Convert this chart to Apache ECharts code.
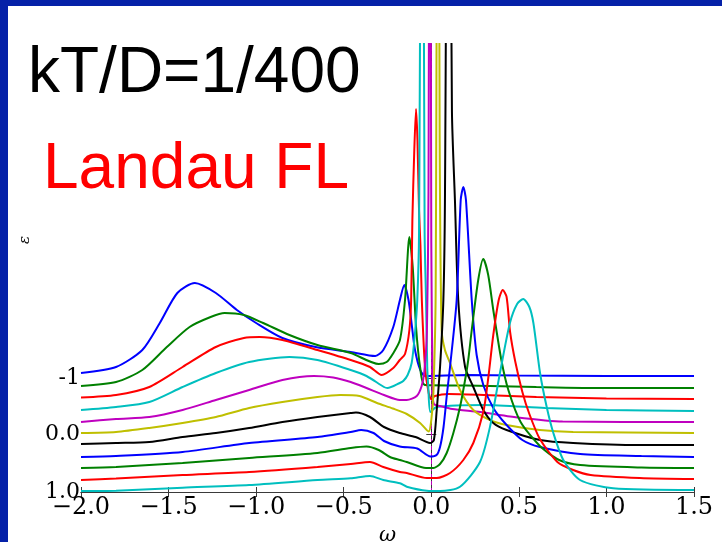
<!DOCTYPE html>
<html>
<head>
<meta charset="utf-8">
<script src="https://cdn.jsdelivr.net/npm/echarts@6/dist/echarts.min.js"></script>
<style>
  html, body { margin: 0; padding: 0; background: #ffffff; }
  #chart { width: 722px; height: 542px; }
</style>
</head>
<body>
<div id="chart"></div>
<script>
// Spectral functions A(omega), each shifted by a constant offset.
// Points are [omega, shifted value]; curves listed from the top offset down.
const curveColors = ['#0000ff', '#008000', '#ff0000', '#00bfbf', '#bf00bf', '#bfbf00',
                     '#000000', '#0000ff', '#008000', '#ff0000', '#00bfbf'];

const curve1 = [[-2.0,11.9],[-1.8,12.5],[-1.65,14.2],[-1.55,16.9],[-1.45,19.9],[-1.35,20.9],
  [-1.23,19.9],[-1.11,18.2],[-1.0,16.9],[-0.85,15.4],[-0.66,14.5],[-0.46,14.0],[-0.32,13.6],
  [-0.274,14.2],[-0.217,16.5],[-0.179,19.2],[-0.154,20.7],[-0.13,19.2],[-0.11,16.5],
  [-0.093,14.2],[-0.063,12.2],[-0.035,11.6],[0.2,11.7],[0.5,11.65],[1.0,11.6],[1.5,11.6]];

const curve2 = [[-2.0,10.6],[-1.8,11.0],[-1.65,12.2],[-1.51,14.5],[-1.38,16.5],[-1.26,17.5],
  [-1.18,17.9],[-1.07,17.7],[-0.96,16.9],[-0.81,15.7],[-0.65,14.7],[-0.46,13.9],[-0.30,12.8],
  [-0.255,13.0],[-0.22,13.8],[-0.179,15.2],[-0.15,19.2],[-0.125,25.5],[-0.106,22.5],
  [-0.087,16.5],[-0.064,12.5],[-0.036,10.7],[0.2,10.65],[0.6,10.5],[1.0,10.4],[1.5,10.4]];

const curve3 = [[-2.0,9.45],[-1.8,9.7],[-1.61,10.5],[-1.42,12.5],[-1.23,14.5],[-1.07,15.4],
  [-0.98,15.5],[-0.85,15.2],[-0.65,14.2],[-0.46,13.2],[-0.35,12.5],[-0.283,11.7],[-0.217,12.4],
  [-0.18,13.2],[-0.15,13.8],[-0.125,16.2],[-0.115,19.2],[-0.108,27.2],[-0.097,34.2],
  [-0.087,38.3],[-0.079,35.2],[-0.07,28.2],[-0.062,24.7],[-0.054,19.2],[-0.036,12.5],
  [-0.015,9.9],[0.0,9.3],[0.02,9.6],[0.1,9.8],[0.3,9.7],[0.6,9.5],[1.0,9.35],[1.5,9.3]];

const curve4 = [[-2.0,8.2],[-1.8,8.5],[-1.61,9.0],[-1.42,10.5],[-1.23,11.9],[-1.04,13.0],
  [-0.81,13.5],[-0.65,13.2],[-0.46,12.2],[-0.37,11.6],[-0.27,10.5],[-0.25,10.4],[-0.18,10.9],
  [-0.16,11.1],[-0.135,11.7],[-0.112,12.9],[-0.093,15.9],[-0.08,19.2],[-0.07,25.9],
  [-0.052,90],[-0.038,25.9],[-0.030,19.2],[-0.023,12.5],[-0.017,10.5],[-0.005,8.0],
  [0.03,8.5],[0.3,8.7],[0.65,8.4],[1.0,8.2],[1.5,8.1]];

const curve5 = [[-2.0,7.0],[-1.8,7.3],[-1.61,7.5],[-1.42,8.2],[-1.23,9.2],[-1.04,10.2],
  [-0.85,11.2],[-0.67,11.6],[-0.56,11.45],[-0.46,11.0],[-0.37,10.4],[-0.27,9.7],[-0.18,9.2],
  [-0.14,9.2],[-0.083,9.6],[-0.055,10.6],[-0.04,12.0],[-0.025,16.0],[-0.016,30],[-0.008,90],
  [0.0,25],[0.008,10.0],[0.015,8.8],[0.05,8.6],[0.12,8.3],[0.28,8.0],[0.45,7.55],[0.75,7.05],
  [1.5,7.0]];

const curve6 = [[-2.0,5.9],[-1.8,6.0],[-1.61,6.4],[-1.42,6.9],[-1.23,7.5],[-1.04,8.4],
  [-0.85,9.0],[-0.65,9.5],[-0.52,9.7],[-0.41,9.6],[-0.31,8.9],[-0.22,8.35],[-0.14,7.8],
  [-0.064,6.9],[-0.015,6.05],[0.0,7.2],[0.012,9.9],[0.025,20],[0.038,90],[0.048,35],
  [0.059,16.2],[0.078,14.2],[0.107,12.9],[0.164,10.2],[0.24,8.2],[0.335,7.2],[0.43,6.7],
  [0.62,6.2],[0.81,6.0],[1.5,5.9]];

const curve7 = [[-2.0,4.8],[-1.8,4.9],[-1.61,5.0],[-1.42,5.5],[-1.23,5.9],[-1.04,6.4],
  [-0.85,7.0],[-0.65,7.5],[-0.46,7.9],[-0.43,7.95],[-0.35,7.5],[-0.27,6.5],[-0.18,5.9],
  [-0.09,5.5],[-0.007,4.9],[0.015,5.2],[0.031,8.2],[0.05,12.5],[0.069,19.2],[0.078,29.2],
  [0.098,90],[0.118,38],[0.135,29.2],[0.154,19.2],[0.193,12.5],[0.24,10.5],[0.297,8.2],
  [0.354,6.9],[0.43,6.2],[0.62,5.2],[0.81,4.9],[1.19,4.7],[1.5,4.7]];

const curve8 = [[-2.0,3.5],[-1.8,3.6],[-1.42,4.0],[-1.04,4.9],[-0.65,5.5],[-0.46,6.0],
  [-0.40,6.2],[-0.33,5.9],[-0.27,5.1],[-0.18,4.55],[-0.08,4.35],[-0.005,3.55],[0.03,3.7],
  [0.05,4.5],[0.07,6.5],[0.09,9.9],[0.107,12.5],[0.145,19.2],[0.168,29.2],[0.183,30.5],
  [0.198,29.2],[0.231,19.2],[0.259,13.7],[0.297,10.7],[0.354,8.4],[0.43,6.7],[0.52,5.2],
  [0.62,4.5],[0.85,3.8],[1.2,3.6],[1.5,3.5]];

const curve9 = [[-2.0,2.4],[-1.8,2.5],[-1.42,2.9],[-1.04,3.4],[-0.65,3.9],[-0.46,4.4],
  [-0.37,4.55],[-0.30,4.2],[-0.236,3.5],[-0.18,3.2],[-0.14,3.0],[-0.03,2.4],[0.012,2.4],
  [0.05,2.8],[0.088,3.9],[0.126,5.9],[0.164,8.5],[0.193,11.2],[0.211,13.2],[0.231,16.2],
  [0.268,21.2],[0.297,23.3],[0.325,21.7],[0.354,18.2],[0.40,13.2],[0.44,10.2],[0.51,7.0],
  [0.62,4.6],[0.73,3.2],[0.85,2.7],[1.2,2.45],[1.5,2.4]];

const curve10 = [[-2.0,1.2],[-1.8,1.35],[-1.42,1.7],[-1.04,2.0],[-0.65,2.5],[-0.46,2.8],
  [-0.35,3.0],[-0.274,2.5],[-0.179,2.0],[-0.14,1.9],[-0.025,1.4],[0.031,1.4],[0.107,1.9],
  [0.183,3.2],[0.24,4.9],[0.297,8.0],[0.326,11.5],[0.354,15.7],[0.385,19.2],[0.408,20.2],
  [0.43,19.5],[0.45,16.0],[0.48,13.0],[0.52,10.0],[0.56,7.8],[0.62,5.3],[0.72,3.0],
  [0.81,2.2],[0.91,1.7],[1.19,1.4],[1.5,1.3]];

const curve11 = [[-2.0,0.1],[-1.8,0.13],[-1.42,0.43],[-1.04,0.7],[-0.65,1.2],[-0.46,1.37],
  [-0.35,1.6],[-0.274,1.2],[-0.179,0.87],[-0.14,0.53],[-0.025,0.13],[0.05,0.1],[0.164,0.53],
  [0.278,3.0],[0.335,6.5],[0.392,11.9],[0.449,16.9],[0.49,18.8],[0.525,19.3],[0.56,18.5],
  [0.583,16.9],[0.621,11.9],[0.659,8.5],[0.697,5.9],[0.754,3.2],[0.849,1.2],[1.038,0.37],
  [1.5,0.2]];

const curves = [curve1, curve2, curve3, curve4, curve5, curve6, curve7, curve8, curve9, curve10, curve11];

// Axis settings
const omegaMin = -2.0, omegaMax = 1.5, omegaStep = 0.5;
const valueMin = 0, valueMax = 44.8;
const yTickValues = [0, 5.8, 11.4];
const yTickLabels = ['1.0', '0.0', '-1'];

const frameColor = '#3a3a3a';
const serif = 'DejaVu Serif';

function omegaLabel(v) {
  const s = Math.abs(v).toFixed(1);
  return v < -1e-9 ? '\u2212' + s : s;
}
function yLabel(v) {
  let best = 0;
  for (let i = 1; i < yTickValues.length; i++) {
    if (Math.abs(yTickValues[i] - v) < Math.abs(yTickValues[best] - v)) best = i;
  }
  return yTickLabels[best];
}

const series = curves.map((c, i) => ({
  type: 'line',
  data: c,
  symbol: 'none',
  smooth: 0.25,
  clip: true,
  lineStyle: { color: curveColors[i], width: 2 },
  z: 2
}));

// dashed marker at omega = 0
series[0].markLine = {
  silent: true,
  symbol: 'none',
  label: { show: false },
  lineStyle: { color: '#bf00bf', type: [4, 3], width: 1 },
  data: [{ xAxis: 0 }],
  z: 1
};

const chart = echarts.init(document.getElementById('chart'), null, { renderer: 'canvas' });
chart.setOption({
  backgroundColor: '#ffffff',
  animation: false,
  grid: { left: 81, right: 28, top: 44, bottom: 50, containLabel: false, outerBoundsMode: 'none' },
  xAxis: [{
    type: 'value', min: omegaMin, max: omegaMax, interval: omegaStep, position: 'bottom',
    name: '\u03c9', nameLocation: 'middle', nameGap: 27,
    nameTextStyle: { fontFamily: serif, fontStyle: 'italic', fontSize: 21, color: '#000' },
    axisLine: { show: true, lineStyle: { color: frameColor, width: 1 } },
    axisTick: { show: true, inside: true, length: 5, lineStyle: { color: frameColor } },
    axisLabel: { formatter: omegaLabel, fontFamily: serif, fontSize: 24, color: '#000', margin: 4,
                 showMinLabel: true, showMaxLabel: true },
    splitLine: { show: false }
  }, {
    type: 'value', min: omegaMin, max: omegaMax, interval: omegaStep, position: 'top',
    axisLine: { show: true, lineStyle: { color: frameColor, width: 1 } },
    axisTick: { show: true, inside: true, length: 5, lineStyle: { color: frameColor } },
    axisLabel: { show: false },
    splitLine: { show: false }
  }],
  yAxis: [{
    type: 'value', min: valueMin, max: valueMax, position: 'left',
    axisLine: { show: true, lineStyle: { color: frameColor, width: 1 } },
    axisTick: { show: true, inside: true, length: 5, customValues: yTickValues, lineStyle: { color: frameColor } },
    axisLabel: { customValues: yTickValues, formatter: yLabel, fontFamily: serif, fontSize: 22, color: '#000', margin: 1 },
    splitLine: { show: false }
  }, {
    type: 'value', min: valueMin, max: valueMax, position: 'right',
    axisLine: { show: true, lineStyle: { color: frameColor, width: 1 } },
    axisTick: { show: true, inside: true, length: 5, customValues: yTickValues, lineStyle: { color: frameColor } },
    axisLabel: { show: false },
    splitLine: { show: false }
  }],
  graphic: [
    { type: 'rect', left: 0, top: 0, z: 100, shape: { width: 8, height: 542 }, style: { fill: '#0521a8' } },
    { type: 'rect', left: 0, top: 0, z: 100, shape: { width: 722, height: 6 }, style: { fill: '#0521a8' } },
    { type: 'text', x: 28, y: 74, z: 50,
      style: { text: 'kT/D=1/400', fill: '#000', font: '64px "Liberation Sans", Arial, sans-serif', verticalAlign: 'middle' } },
    { type: 'text', x: 43, y: 170, z: 50,
      style: { text: 'Landau FL', fill: '#ff0000', font: '64px "Liberation Sans", Arial, sans-serif', verticalAlign: 'middle' } },
    { type: 'text', x: 25, y: 240, z: 50, rotation: Math.PI / 2,
      style: { text: '\u03b5', fill: '#000', font: 'italic 15px "DejaVu Serif", serif', align: 'center', verticalAlign: 'middle' } }
  ],
  series: series
});
</script>
</body>
</html>
